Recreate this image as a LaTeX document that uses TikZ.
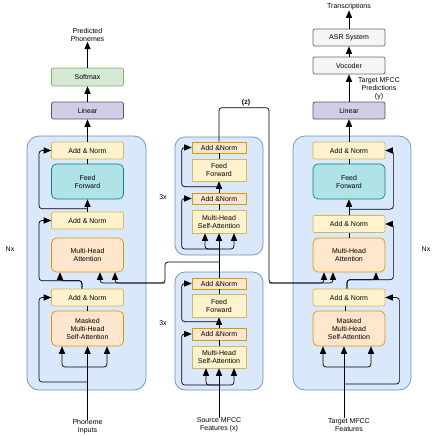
\documentclass[tikz,border=0pt]{standalone}
\usepackage{fontspec}
\setmainfont{Liberation Sans}
\usetikzlibrary{arrows}
\usetikzlibrary{calc}
\usetikzlibrary{positioning}
\definecolor{blkf}{HTML}{DAE8FC}
\definecolor{blkd}{HTML}{6C8EBF}
\definecolor{ylwf}{HTML}{FFF2CC}
\definecolor{ylwd}{HTML}{D6B656}
\definecolor{cynf}{HTML}{B0E3E6}
\definecolor{cynd}{HTML}{0E8088}
\definecolor{orgf}{HTML}{FFE6CC}
\definecolor{orgd}{HTML}{D79B00}
\definecolor{prpf}{HTML}{D0CEE2}
\definecolor{prpd}{HTML}{56517E}
\definecolor{grnf}{HTML}{D5E8D4}
\definecolor{grnd}{HTML}{82B366}
\definecolor{gryf}{HTML}{F5F5F5}
\definecolor{gryd}{HTML}{666666}
\tikzset{blk/.style={rectangle, rounded corners=12pt, fill=blkf, draw=blkd, line width=.7pt, inner sep=0pt},
box/.style={rectangle, rounded corners=2pt, line width=.7pt, minimum width=72pt, inner sep=0pt,
align=center, font=\fontsize{7}{8}\selectfont},
addn/.style={box, fill=ylwf, draw=ylwd, minimum height=17pt},
ffwd/.style={box, fill=cynf, draw=cynd, minimum height=35pt, rounded corners=5pt},
att/.style={box, fill=orgf, draw=orgd, minimum height=34pt, rounded corners=5pt},
lin/.style={box, fill=prpf, draw=prpd, minimum height=17pt},
smax/.style={box, fill=grnf, draw=grnd, minimum height=18pt},
gry/.style={box, fill=gryf, draw=gryd, minimum height=17pt},
madd/.style={box, rounded corners=0pt, fill=orgf, draw=orgd, minimum width=54pt, minimum height=11pt},
mblk/.style={box, rounded corners=0pt, fill=ylwf, draw=ylwd, minimum width=54pt, minimum height=22pt},
txt/.style={align=center, inner sep=0pt, font=\fontsize{7}{8}\selectfont},
wire/.style={line width=.7pt, rounded corners=3pt},
>={triangle 45}}
\begin{document}
\begin{tikzpicture}[x=1pt,y=-1pt]
  \useasboundingbox (0,0) rectangle (436,436);
  % blocks
  \node (enc) [blk, minimum width=119pt, minimum height=254pt] at (86.5,263) {};
  \node (dec) [blk, minimum width=118pt, minimum height=254pt] at (352,263) {};
  \node (mida) [blk, rounded corners=10pt, minimum width=88pt, minimum height=118pt] at (219,196) {};
  \node (midb) [blk, rounded corners=10pt, minimum width=88pt, minimum height=118pt] at (219,331) {};

  % phoneme side
  \node (out1) [txt] at (87.5,35) {Predicted\\Phonemes};
  \node (sm1) [smax] at (87.5,77) {Softmax};
  \node (lin1) [lin] at (87.5,110.5) {Linear};
  \node (an1) [addn] at (87.5,150.5) {Add \& Norm};
  \node (ff1) [ffwd] at (87.5,181.5) {Feed\\Forward};
  \node (an2) [addn] at (87.5,220.5) {Add \& Norm};
  \node (mha1) [att] at (87.5,255) {Multi-Head\\Attention};
  \node (an3) [addn] at (87.5,297.5) {Add \& Norm};
  \node (mm1) [att, minimum height=35pt] at (87.5,328.5) {Masked\\Multi-Head\\Self-Attention};
  \node (in1) [txt] at (87.5,427) {Phoneme\\Inputs};
  \node (nx1) [txt] at (10,249) {Nx};

  \coordinate (lp1) at (87.5,367);
  \coordinate (rs1) at (87.5,382);
  \draw [wire,->] (in1.north) -- (mm1.south);
  \draw [wire,->] (lp1) -| ($(mm1.south)+(-25.5,0)$);
  \draw [wire,->] (lp1) -| ($(mm1.south)+(19.5,0)$);
  \draw [wire,->] (rs1) -- ++(-48.5,0) |- (an3.west);
  \draw [wire] (mm1.north) -- (an3.south);
  \draw [wire,->] ($(an3.north)+(-5.5,0)$) -- ++(0,-8) -| ($(mha1.south)+(-27.5,0)$);
  \draw [wire,->] ($(an3.north)+(-5.5,0)$) -- ++(0,-8) -- ++(-43,0) |- (an2.west);
  \draw [wire,->] (an2.north) -- (ff1.south);
  \draw [wire,->] ($(an2.north)+(0,-3)$) -- ++(-48.5,0) |- (an1.west);
  \draw [wire] (ff1.north) -- (an1.south);
  \draw [wire,->] (an1.north) -- (lin1.south);
  \draw [wire,->] (lin1.north) -- (sm1.south);
  \draw [wire,->] (sm1.north) -- (out1.south);

  % source MFCC encoder
  \node (an7) [madd] at (219,147.5) {Add \&Norm};
  \node (ff3) [mblk] at (219,170) {Feed\\Forward};
  \node (an8) [madd] at (219,198.5) {Add \&Norm};
  \node (sa1) [mblk, minimum height=23pt] at (219,221.5) {Multi-Head\\Self-Attention};
  \node (an9) [madd] at (219,283.5) {Add \&Norm};
  \node (ff4) [mblk, minimum height=23pt] at (219,305.5) {Feed\\Forward};
  \node (an10) [madd, minimum height=12pt] at (219,334) {Add \&Norm};
  \node (sa2) [mblk] at (219,357) {Multi-Head\\Self-Attention};
  \node (in2) [txt] at (219,425) {Source MFCC\\Features (x)};
  \node (rep1) [txt] at (163,197) {3x};
  \node (rep2) [txt] at (163,323) {3x};
  \node (zlab) [txt] at (246,103) {\textbf{(z)}};

  \coordinate (lp2) at (219,385);
  \coordinate (lp3) at (219,249);
  \draw [wire,->] (in2.north) -- (sa2.south);
  \draw [wire,->] (lp2) -| ($(sa2.south)+(-13,0)$);
  \draw [wire,->] (lp2) -| ($(sa2.south)+(15,0)$);
  \draw [wire,->] (lp2) -| ($(an10.west)+(-10,0)$) -- (an10.west);
  \draw [wire] (sa2.north) -- (an10.south);
  \draw [wire,->] (an10.north) -- (ff4.south);
  \draw [wire,->] ($(an10.north)+(0,-6)$) -| ($(an9.west)+(-10,0)$) -- (an9.west);
  \draw [wire] (ff4.north) -- (an9.south);
  \draw [wire,->] (an9.north) -- (sa1.south);
  \draw [wire,->] (lp3) -| ($(sa1.south)+(-14,0)$);
  \draw [wire,->] (lp3) -| ($(sa1.south)+(15,0)$);
  \draw [wire,->] (lp3) -| ($(an8.west)+(-10,0)$) -- (an8.west);
  \draw [wire] (sa1.north) -- (an8.south);
  \draw [wire,->] (an8.north) -- (ff3.south);
  \draw [wire,->] ($(an8.north)+(0,-6)$) -| ($(an7.west)+(-10,0)$) -- (an7.west);
  \draw [wire] (ff3.north) -- (an7.south);

  % encoder outputs
  \coordinate (zc) at (219,262);
  \coordinate (zl) at (165,283);
  \coordinate (zr) at (269,283);
  \draw [wire,->] (zc) -| (zl) -| ($(mha1.south)+(12.5,0)$);
  \draw [wire,->] (zl) -| ($(mha1.south)+(27.5,0)$);

  % MFCC decoder
  \node (trn) [txt] at (349,7) {Transcriptions};
  \node (asr) [gry] at (349,37.5) {ASR System};
  \node (voc) [gry] at (349,65.5) {Vocoder};
  \node (pred) [txt] at (379,89) {Target MFCC\\Predictions\\(y)};
  \node (lin2) [lin] at (349,110.5) {Linear};
  \node (an4) [addn] at (349,150.5) {Add \& Norm};
  \node (ff2) [ffwd] at (349,181.5) {Feed\\Forward};
  \node (an5) [addn] at (349,224) {Add \& Norm};
  \node (mha2) [att] at (349,255) {Multi-Head\\Attention};
  \node (an6) [addn] at (349,297.5) {Add \& Norm};
  \node (mm2) [att, minimum height=35pt] at (349,328.5) {Masked\\Multi-Head\\Self-Attention};
  \node (in3) [txt] at (349,425) {Target MFCC\\Features};
  \node (nx2) [txt] at (426,249) {Nx};

  \draw [wire,->] (an7.north) -- ++(0,-34) -| (zr) -| ($(mha2.south)+(-16,0)$);
  \draw [wire,->] (zr) -| ($(mha2.south)+(-25,0)$);

  \coordinate (lp4) at (344,367);
  \coordinate (rs2) at (344,384);
  \draw [wire,->] ($(in3.north)+(-5,0)$) -- ($(mm2.south)+(-5,0)$);
  \draw [wire,->] (lp4) -| ($(mm2.south)+(-26,0)$);
  \draw [wire,->] (lp4) -| ($(mm2.south)+(22,0)$);
  \draw [wire,->] (rs2) -| ($(an6.east)+(14,0)$) -- (an6.east);
  \draw [wire] ($(mm2.north)+(-4,0)$) -- ($(an6.south)+(-4,0)$);
  \draw [wire,->] ($(an6.north)+(-2,0)$) -- ++(0,-9) -| ($(mha2.south)+(27,0)$);
  \draw [wire,->] ($(an6.north)+(-2,0)$) -- ++(0,-9) -| ($(an5.east)+(8,0)$) -- (an5.east);
  \draw [wire] (mha2.north) -- (an5.south);
  \draw [wire,->] (an5.north) -- (ff2.south);
  \draw [wire,->] ($(an5.north)+(0,-6)$) -| ($(an4.east)+(8,0)$) -- (an4.east);
  \draw [wire] (ff2.north) -- (an4.south);
  \draw [wire,->] (an4.north) -- (lin2.south);
  \draw [wire,->] (lin2.north) -- (voc.south);
  \draw [wire,->] (voc.north) -- (asr.south);
  \draw [wire,->] (asr.north) -- (trn.south);
\end{tikzpicture}
\end{document}
